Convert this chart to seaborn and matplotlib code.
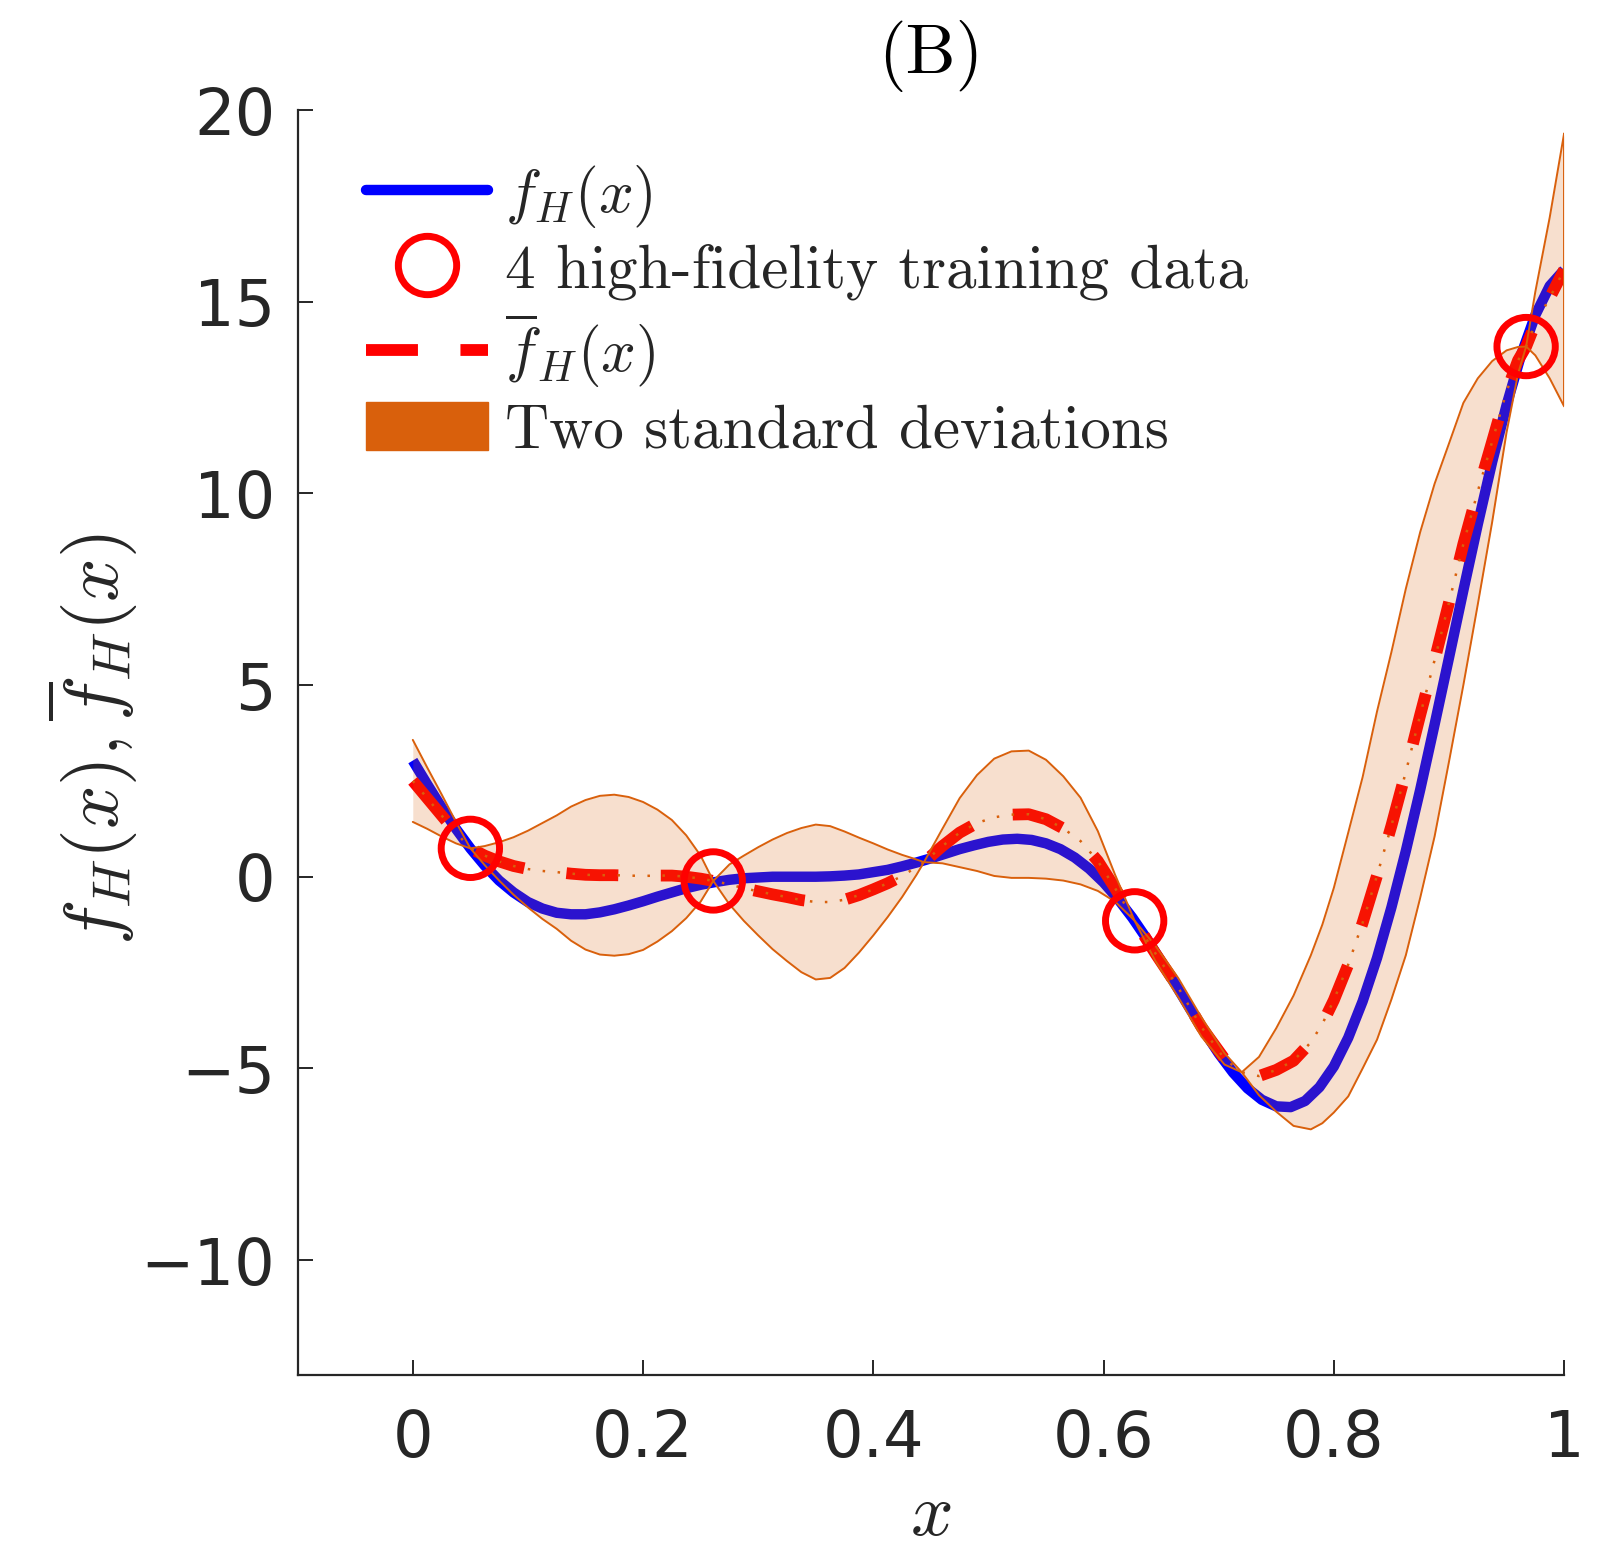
import numpy as np
import pandas as pd
import matplotlib
matplotlib.use("Agg")
import matplotlib.pyplot as plt
from matplotlib.lines import Line2D
from matplotlib.patches import Patch
from matplotlib.font_manager import FontProperties
import seaborn as sns

# ---- data -------------------------------------------------------------
# high-fidelity function f_H(x)
x_true = [0.0, 0.0125, 0.025, 0.0375, 0.05, 0.0625, 0.075, 0.0875, 0.1, 0.1125,
          0.125, 0.1375, 0.15, 0.1625, 0.175, 0.1875, 0.2, 0.2125, 0.225, 0.2375,
          0.25, 0.2625, 0.275, 0.2875, 0.3, 0.3125, 0.325, 0.3375, 0.35, 0.3625,
          0.375, 0.3875, 0.4, 0.4125, 0.425, 0.4375, 0.45, 0.4625, 0.475, 0.4875,
          0.5, 0.5125, 0.525, 0.5375, 0.55, 0.5625, 0.575, 0.5875, 0.6, 0.6125,
          0.625, 0.6375, 0.65, 0.6625, 0.675, 0.6875, 0.7, 0.7125, 0.725, 0.7375,
          0.75, 0.7625, 0.775, 0.7875, 0.8, 0.8125, 0.825, 0.8375, 0.85, 0.8625,
          0.875, 0.8875, 0.9, 0.9125, 0.925, 0.9375, 0.95, 0.9625, 0.975, 0.9875,
          1.0]
f_true = [3.03, 2.41, 1.81, 1.25, 0.74, 0.29, -0.10, -0.41, -0.66, -0.83,
          -0.94, -0.98, -0.98, -0.93, -0.85, -0.75, -0.64, -0.52, -0.41, -0.30,
          -0.21, -0.14, -0.08, -0.04, -0.02, 0.00, 0.00, 0.00, 0.00, 0.01,
          0.03, 0.06, 0.12, 0.18, 0.27, 0.37, 0.48, 0.60, 0.72, 0.82,
          0.91, 0.97, 0.99, 0.96, 0.87, 0.72, 0.50, 0.21, -0.15, -0.58,
          -1.07, -1.62, -2.21, -2.82, -3.44, -4.04, -4.61, -5.11, -5.52, -5.82,
          -5.99, -6.01, -5.85, -5.49, -4.95, -4.20, -3.25, -2.12, -0.80, 0.67,
          2.27, 3.97, 5.71, 7.47, 9.19, 10.82, 12.30, 13.60, 14.65, 15.41,
          15.83]

# high-fidelity training samples
x_train = [0.05, 0.261, 0.627, 0.967]
y_train = [0.74, -0.11, -1.15, 13.83]

# predictive mean and two-standard-deviation half width
x_pred = [0.0, 0.0125, 0.025, 0.0375, 0.05,
          0.0625, 0.075, 0.0875, 0.1, 0.1125,
          0.125, 0.1375, 0.15, 0.1625, 0.175,
          0.1875, 0.2, 0.2125, 0.225, 0.2375,
          0.25, 0.261, 0.275, 0.2875, 0.3,
          0.3125, 0.325, 0.3375, 0.35, 0.3625,
          0.375, 0.3875, 0.4, 0.4125, 0.425,
          0.4375, 0.444, 0.46, 0.475, 0.49,
          0.505, 0.52, 0.535, 0.55, 0.565,
          0.58, 0.595, 0.61, 0.627, 0.645,
          0.665, 0.685, 0.705, 0.72, 0.735,
          0.75, 0.765, 0.78, 0.79, 0.8,
          0.8125, 0.825, 0.8375, 0.85, 0.8625,
          0.875, 0.8875, 0.9, 0.9125, 0.925,
          0.9375, 0.95, 0.96, 0.967, 0.975,
          0.9875, 1.0]
mean_pred = [2.50, 2.05, 1.60, 1.15, 0.74,
             0.55, 0.40, 0.28, 0.20, 0.15,
             0.12, 0.08, 0.05, 0.04, 0.04,
             0.03, 0.02, 0.03, 0.03, 0.00,
             -0.05, -0.11, -0.20, -0.30, -0.38,
             -0.46, -0.53, -0.61, -0.66, -0.66,
             -0.60, -0.48, -0.33, -0.17, 0.02,
             0.25, 0.38, 0.80, 1.15, 1.40,
             1.55, 1.62, 1.63, 1.50, 1.26,
             0.93, 0.41, -0.30, -1.15, -2.00,
             -2.90, -3.92, -4.75, -5.10, -5.20,
             -5.04, -4.80, -4.32, -3.84, -3.22,
             -2.29, -1.20, 0.03, 1.33, 2.73,
             4.22, 5.65, 7.15, 8.68, 10.05,
             11.35, 12.66, 13.47, 13.83, 14.43,
             15.10, 15.83]
two_sd = [1.07, 0.80, 0.55, 0.28, 0.00,
          0.25, 0.50, 0.75, 1.00, 1.25,
          1.48, 1.75, 1.95, 2.07, 2.10,
          2.05, 1.93, 1.72, 1.45, 1.08,
          0.60, 0.00, 0.52, 0.85, 1.15,
          1.43, 1.67, 1.88, 2.02, 1.98,
          1.78, 1.50, 1.20, 0.88, 0.55,
          0.20, 0.00, 0.45, 0.90, 1.25,
          1.53, 1.65, 1.66, 1.55, 1.36,
          1.13, 0.78, 0.35, 0.00, 0.20,
          0.25, 0.25, 0.15, 0.00, 0.50,
          1.09, 1.70, 2.27, 2.59, 2.93,
          3.44, 3.80, 4.28, 4.53, 4.78,
          4.77, 4.60, 4.15, 3.68, 2.95,
          2.10, 1.07, 0.35, 0.00, 0.83,
          2.10, 3.56]

x_ticks = [0, 0.2, 0.4, 0.6, 0.8, 1]
x_ticklabels = ["0", "0.2", "0.4", "0.6", "0.8", "1"]
y_ticks = [-10, -5, 0, 5, 10, 15, 20]

# ---- style ------------------------------------------------------------
sns.set_theme(style="ticks")
plt.rcParams["font.family"] = ["DejaVu Sans"]
plt.rcParams["mathtext.fontset"] = "cm"
plt.rcParams["axes.unicode_minus"] = True

INK = "#262626"
ORANGE = "#D9600C"

true_df = pd.DataFrame({"x": x_true, "f": f_true})
pred_df = pd.DataFrame({"x": x_pred, "mean": mean_pred, "sd2": two_sd})
pred_df["upper"] = pred_df["mean"] + pred_df["sd2"]
pred_df["lower"] = pred_df["mean"] - pred_df["sd2"]
train_df = pd.DataFrame({"x": x_train, "y": y_train})

fig = plt.figure(figsize=(16.09, 15.52), dpi=100)
ax = fig.add_axes([0.1850, 0.1140, 0.7871, 0.8151])

# true function
sns.lineplot(data=true_df, x="x", y="f", ax=ax, color="#0000FF", lw=7.5,
             solid_capstyle="butt", solid_joinstyle="round", zorder=2,
             legend=False)
# predictive mean (thick dashes)
sns.lineplot(data=pred_df, x="x", y="mean", ax=ax, color="#FF0000", lw=8.5,
             linestyle=(0, (4.4, 3.6)), zorder=3, legend=False)
# uncertainty band
ax.fill_between(pred_df["x"], pred_df["lower"], pred_df["upper"],
                color=ORANGE, alpha=0.2, lw=0, zorder=4)
sns.lineplot(data=pred_df, x="x", y="upper", ax=ax, color=ORANGE, lw=1.4,
             zorder=5, legend=False)
sns.lineplot(data=pred_df, x="x", y="lower", ax=ax, color=ORANGE, lw=1.4,
             zorder=5, legend=False)
ax.vlines(pred_df["x"].iloc[-1], pred_df["lower"].iloc[-1],
          pred_df["upper"].iloc[-1], color=ORANGE, lw=1.4, zorder=5)
# thin dotted trace of the mean
sns.lineplot(data=pred_df, x="x", y="mean", ax=ax, color=ORANGE, lw=1.8,
             linestyle=(0, (1, 5)), zorder=5, legend=False)
# training samples
sns.scatterplot(data=train_df, x="x", y="y", ax=ax, marker="o", s=42 ** 2,
                facecolor="none", edgecolor="#FF0000", linewidth=5, zorder=6,
                legend=False)

# ---- axes -------------------------------------------------------------
ax.set_xlim(-0.1, 1.0)
ax.set_ylim(-13, 20)
ax.set_xticks(x_ticks)
ax.set_xticklabels(x_ticklabels)
ax.set_yticks(y_ticks)
sns.despine(ax=ax)
for side in ("left", "bottom"):
    ax.spines[side].set_color(INK)
    ax.spines[side].set_linewidth(1.6)
ax.tick_params(direction="in", length=11, width=1.4, colors=INK,
               labelsize=46, pad=16)
ax.tick_params(axis="x", pad=24)
ax.set_facecolor("white")
ax.grid(False)

ax.set_xlabel("$x$", fontsize=54, color=INK)
ax.xaxis.label.set_va("center")
ax.xaxis.set_label_coords(0.5, -0.110)
ax.set_ylabel(r"$f_H(x), \overline{f}_H(x)$", fontsize=55, color=INK)
ax.yaxis.label.set_va("center")
ax.yaxis.set_label_coords(-0.162, 0.503)

ax.set_title("(B)", fontfamily="cmr10", fontsize=51, color="black", pad=26)

# ---- legend -----------------------------------------------------------
handles = [
    Line2D([], [], color="#0000FF", lw=7.5),
    Line2D([], [], ls="none", marker="o", ms=42, mfc="none", mec="#FF0000", mew=5),
    Line2D([], [], color="#FF0000", lw=8.5, ls=(0, (4.4, 3.6))),
    Patch(facecolor=ORANGE, edgecolor=ORANGE),
]
labels = [r"$f_H(x)$", "4 high-fidelity training data",
          r"$\overline{f}_H(x)$", "Two standard deviations"]
ax.legend(handles, labels, loc="upper left", bbox_to_anchor=(0.054, 0.958),
          frameon=False, prop=FontProperties(family="cmr10", size=44),
          handlelength=2.0, handleheight=0.82, handletextpad=0.28,
          labelspacing=0.2, borderpad=0, borderaxespad=0)

fig.savefig("out.png", dpi=100, facecolor="white")
